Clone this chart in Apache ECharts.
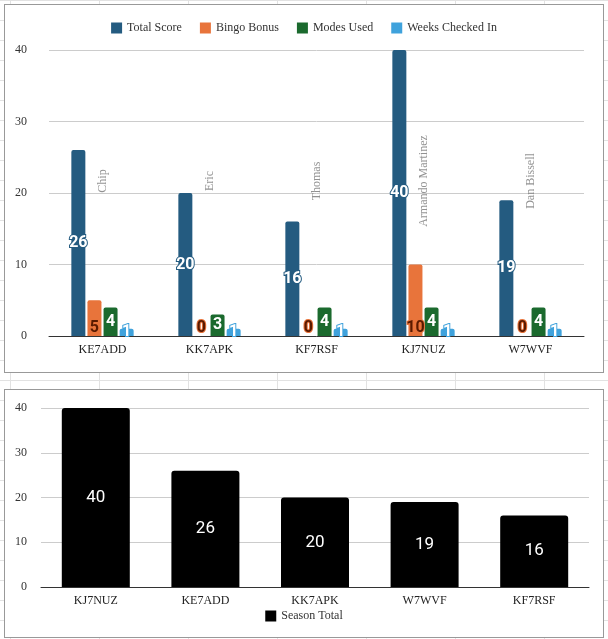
<!DOCTYPE html>
<html>
<head>
<meta charset="utf-8">
<script src="https://cdn.jsdelivr.net/npm/echarts@6/dist/echarts.min.js"></script>
<style>
  body { margin: 0; width: 608px; height: 639px; position: relative; background: #fff;
    background-image: linear-gradient(90deg, #e2e2e2 1px, transparent 1px), linear-gradient(#e2e2e2 1px, transparent 1px);
    background-size: 89px 100%, 100% 20px; background-position: 10px 0, 0 0; }
  .box { position: absolute; left: 4px; width: 600px; background: #fff; border: 1px solid #999; box-sizing: border-box; }
</style>
</head>
<body>
<div id="top" class="box" style="top:4px;height:369px"></div>
<div id="bottom" class="box" style="top:389px;height:249px"></div>
<script>
// top chart data
const callsigns = ["KE7ADD", "KK7APK", "KF7RSF", "KJ7NUZ", "W7WVF"];
const names = ["Chip", "Eric", "Thomas", "Armando Martinez", "Dan Bissell"];
const totalScore = [26, 20, 16, 40, 19];
const bingoBonus = [5, 0, 0, 10, 0];
const modesUsed = [4, 3, 4, 4, 4];
const weeksChecked = [1, 1, 1, 1, 1];
const namePos = [20, 20, 20, 20, 20];

// bottom chart data (sorted)
const rankCalls = ["KJ7NUZ", "KE7ADD", "KK7APK", "W7WVF", "KF7RSF"];
const seasonTotal = [40, 26, 20, 19, 16];

const serif = "'Liberation Serif', 'DejaVu Serif', serif";

function lbl(color, border) {
  return {
    show: true, position: "inside", fontFamily: "Roboto", fontWeight: "bold", fontSize: 16,
    color: color, textBorderColor: border, textBorderWidth: 2
  };
}

function barSeries(name, data, color, label) {
  return {
    name, type: "bar", data, barWidth: 14, barGap: "15%",
    itemStyle: { color, borderRadius: [2, 2, 0, 0] },
    label
  };
}

var topChart = echarts.init(document.getElementById("top"));
topChart.setOption({
  animation: false,
  legend: {
    top: 12, itemWidth: 11, itemHeight: 11, icon: "rect", itemGap: 18,
    data: ["Total Score", "Bingo Bonus", "Modes Used", "Weeks Checked In"],
    textStyle: { fontFamily: serif, fontSize: 12, color: "#333" }
  },
  grid: { left: 44, right: 19, top: 45, height: 286, containLabel: false },
  xAxis: {
    type: "category", data: callsigns,
    axisTick: { show: false },
    axisLine: { lineStyle: { color: "#333" } },
    axisLabel: { fontFamily: serif, fontSize: 12, color: "#222" }
  },
  yAxis: {
    type: "value", min: 0, max: 40, interval: 10,
    axisLabel: { fontFamily: serif, fontSize: 12, color: "#333", margin: 22 },
    splitLine: { lineStyle: { color: "#ccc" } }
  },
  series: [
    barSeries("Total Score", totalScore, "#245b80", lbl("#fff", "#245b80")),
    barSeries("Bingo Bonus", bingoBonus, "#e8743b", Object.assign(lbl("#5a1a00", "#e8743b"), { position: "insideBottom", distance: 0 })),
    barSeries("Modes Used", modesUsed, "#1b6a2e", lbl("#fff", "#1b6a2e")),
    barSeries("Weeks Checked In", weeksChecked, "#3fa2dc", Object.assign(lbl("#fff", "#3fa2dc"), { position: "insideBottom", distance: -4 })),
    {
      name: "names", type: "scatter", data: namePos, symbolSize: 0, silent: true,
      label: {
        show: true, position: "inside", offset: [12, 0], rotate: 90,
        formatter: p => names[p.dataIndex],
        fontFamily: serif, fontSize: 12, color: "#777"
      }
    }
  ]
});

var bottomChart = echarts.init(document.getElementById("bottom"));
bottomChart.setOption({
  animation: false,
  legend: {
    bottom: 10, itemWidth: 11, itemHeight: 11, icon: "rect",
    data: ["Season Total"],
    textStyle: { fontFamily: serif, fontSize: 12, color: "#333" }
  },
  grid: { left: 36, right: 14, top: 18, height: 179, containLabel: false },
  xAxis: {
    type: "category", data: rankCalls,
    axisTick: { show: false },
    axisLine: { lineStyle: { color: "#333" } },
    axisLabel: { fontFamily: serif, fontSize: 12, color: "#222" }
  },
  yAxis: {
    type: "value", min: 0, max: 40, interval: 10,
    axisLabel: { fontFamily: serif, fontSize: 12, color: "#333", margin: 14 },
    splitLine: { lineStyle: { color: "#ccc" } }
  },
  series: [{
    name: "Season Total", type: "bar", data: seasonTotal, barWidth: 68,
    itemStyle: { color: "#000", borderRadius: [3, 3, 0, 0] },
    label: { show: true, position: "inside", fontFamily: "Roboto", fontSize: 17, color: "#fff" }
  }]
});
</script>
</body>
</html>
